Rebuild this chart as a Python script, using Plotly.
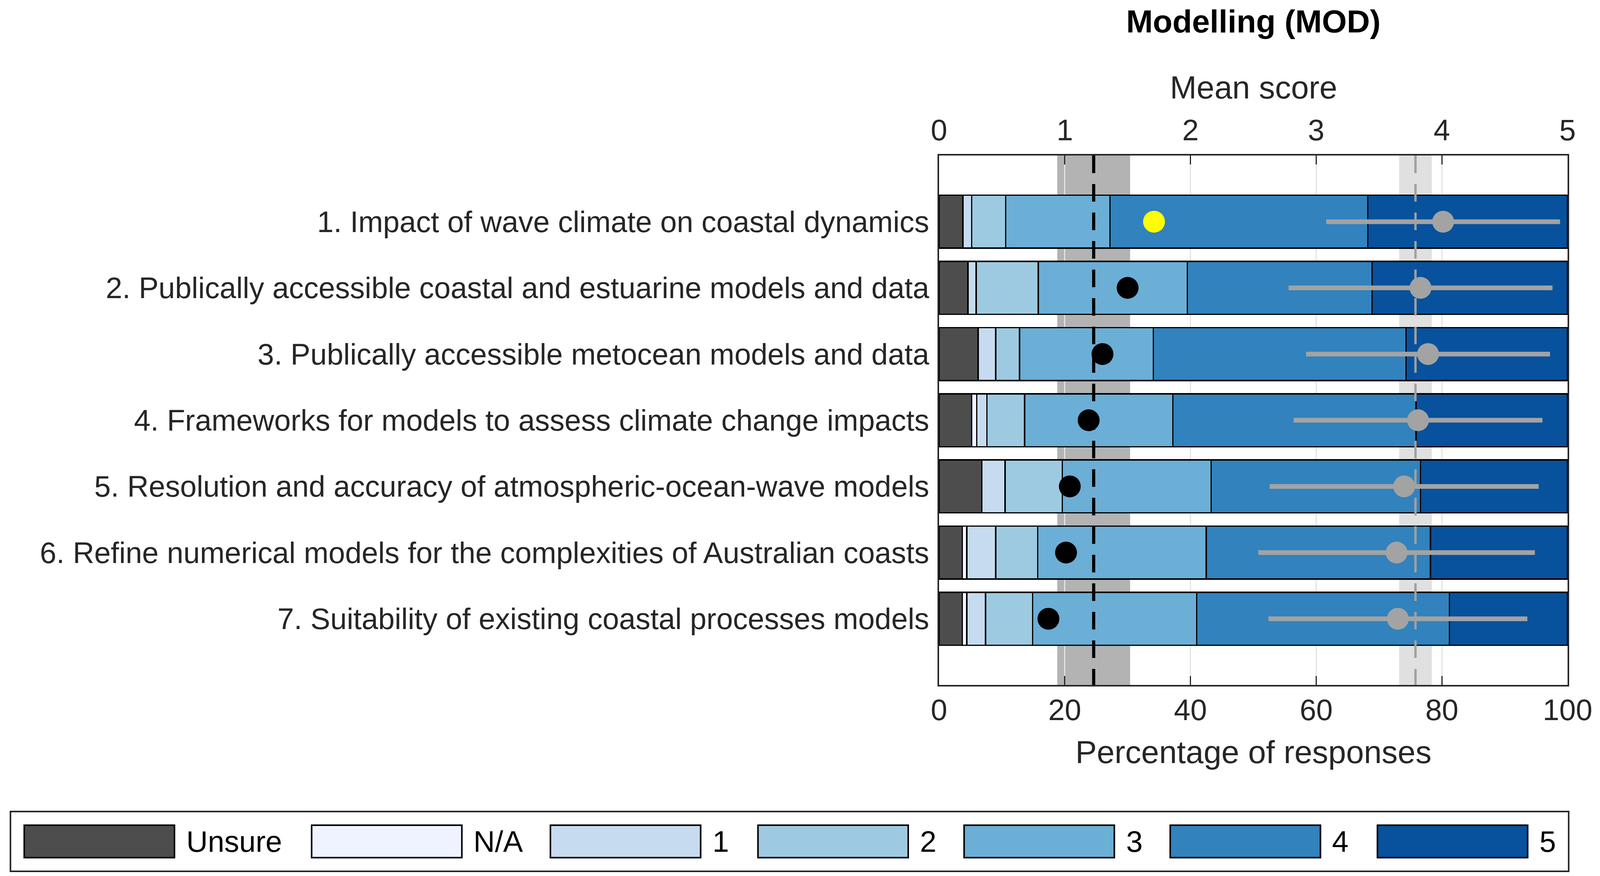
import plotly.graph_objects as go

# Survey items (top to bottom)
categories = [
    "1. Impact of wave climate on coastal dynamics",
    "2. Publically accessible coastal and estuarine models and data",
    "3. Publically accessible metocean models and data",
    "4. Frameworks for models to assess climate change impacts",
    "5. Resolution and accuracy of atmospheric-ocean-wave models",
    "6. Refine numerical models for the complexities of Australian coasts",
    "7. Suitability of existing coastal processes models",
]

# Percentage of responses per answer level
levels = ["Unsure", "N/A", "1", "2", "3", "4", "5"]
pct_unsure = [3.8, 4.6, 6.2, 5.2, 6.8, 3.7, 3.7]
pct_na = [0.0, 0.0, 0.0, 0.8, 0.0, 0.7, 0.7]
pct_1 = [1.4, 1.3, 2.8, 1.6, 3.7, 4.6, 3.0]
pct_2 = [5.4, 9.9, 3.8, 6.0, 9.1, 6.7, 7.5]
pct_3 = [16.6, 23.7, 21.3, 23.6, 23.7, 26.8, 26.1]
pct_4 = [41.0, 29.4, 40.2, 38.7, 33.3, 35.7, 40.2]
pct_5 = [31.8, 31.1, 25.7, 24.1, 23.4, 21.8, 18.8]
level_colors = ["#4d4d4d", "#eff3ff", "#c6dbef", "#9ecae1", "#6baed6", "#3182bd", "#08519c"]

# Scores on the 0-5 "Mean score" axis
priority_score = [1.71, 1.50, 1.30, 1.19, 1.04, 1.01, 0.87]
highlighted = [True, False, False, False, False, False, False]
priority_overall = 1.23
priority_band = (0.94, 1.52)

mean_score = [4.01, 3.83, 3.89, 3.81, 3.70, 3.64, 3.65]
mean_score_sd = [0.93, 1.05, 0.97, 0.99, 1.07, 1.10, 1.03]
mean_overall = 3.79
mean_band = (3.66, 3.92)

pct_ticks = [0, 20, 40, 60, 80, 100]
score_ticks = [0, 1, 2, 3, 4, 5]

# ---- layout (measured in reference pixels, mapped to the 4096 px wide page) ----
SX = 4096 / 4377
PAGE_PAD = 8
W, H = 4096 - 2 * PAGE_PAD, 2242 - 2 * PAGE_PAD
L, R, T, B = 2569, 4301, 398, 1753          # plot area in reference pixels
FONT = "Liberation Sans, Arial, sans-serif"
TXT = "#262626"
FS = 76        # tick / legend text
FS_TITLE = 82  # axis titles and title


def fx(x):
    return round(x * SX) - PAGE_PAD


def fy(y):
    return y - PAGE_PAD


def px(x):
    return (x - L) / (R - L)


def py(y):
    return (B - y) / (B - T)


rows = list(range(1, len(categories) + 1))
series = [pct_unsure, pct_na, pct_1, pct_2, pct_3, pct_4, pct_5]

fig = go.Figure()

for name, vals, col in zip(levels, series, level_colors):
    fig.add_trace(go.Bar(
        x=vals, y=rows, orientation="h", name=name, width=0.8,
        marker=dict(color=col, line=dict(color="black", width=3.5)),
    ))

top = len(categories) + 1

# overall reference lines on the mean score axis
fig.add_trace(go.Scatter(
    x=[priority_overall, priority_overall], y=[0, top], xaxis="x2", yaxis="y",
    mode="lines", line=dict(color="black", width=8, dash="45px,28px"),
))
fig.add_trace(go.Scatter(
    x=[mean_overall, mean_overall], y=[0, top], xaxis="x2", yaxis="y",
    mode="lines", line=dict(color="#a0a0a0", width=6, dash="45px,28px"),
))

fig.add_trace(go.Scatter(
    x=mean_score, y=rows, xaxis="x2", yaxis="y", mode="markers",
    marker=dict(size=56, color="#a3a3a3"),
    error_x=dict(type="data", array=mean_score_sd, color="#a3a3a3", thickness=12, width=0),
))
fig.add_trace(go.Scatter(
    x=priority_score, y=rows, xaxis="x2", yaxis="y", mode="markers",
    marker=dict(size=56, color=["#ffff00" if h else "black" for h in highlighted]),
))

# shaded bands behind the bars
fig.add_shape(type="rect", xref="x2", yref="paper", x0=priority_band[0], x1=priority_band[1],
              y0=0, y1=1, fillcolor="#b3b3b3", line_width=0, layer="below")
fig.add_shape(type="rect", xref="x2", yref="paper", x0=mean_band[0], x1=mean_band[1],
              y0=0, y1=1, fillcolor="#e0e0e0", line_width=0, layer="below")

axis_common = dict(ticks="inside", ticklen=23, tickwidth=3, tickcolor=TXT,
                   zeroline=False, ticklabeloverflow="allow",
                   tickfont=dict(size=FS, color=TXT, family=FONT))

fig.update_layout(
    width=W, height=H,
    margin=dict(l=fx(L), r=W - fx(R), t=fy(T), b=H - fy(B), pad=0),
    barmode="stack", showlegend=False,
    plot_bgcolor="white", paper_bgcolor="white",
    font=dict(family=FONT, size=FS, color=TXT),
    xaxis=dict(range=[0, 100], tickvals=pct_ticks, showline=True, linewidth=4,
               linecolor=TXT, mirror=True, showgrid=True, gridcolor="#e3e3e3",
               gridwidth=3, ticklabelstandoff=-5, **axis_common),
    xaxis2=dict(range=[0, 5], tickvals=score_ticks, overlaying="x", side="top",
                showgrid=False, showline=False, ticklabelstandoff=23, **axis_common),
    yaxis=dict(range=[top, 0], tickvals=rows, ticktext=categories, showline=True,
               linewidth=4, linecolor=TXT, mirror=True, showgrid=False, zeroline=False,
               ticks="", ticklabelstandoff=6, tickfont=dict(size=FS, color=TXT, family=FONT)),
)

# titles
fig.add_annotation(text="<b>Modelling (MOD)</b>", xref="paper", yref="paper", x=0.5, y=py(PAGE_PAD),
                   xanchor="center", yanchor="top", showarrow=False, borderpad=0,
                   font=dict(size=FS_TITLE, color="black", family=FONT))
fig.add_annotation(text="Mean score", xref="paper", yref="paper", x=0.5, y=py(224),
                   xanchor="center", yanchor="middle", showarrow=False,
                   font=dict(size=FS_TITLE, color=TXT, family=FONT))
fig.add_annotation(text="Percentage of responses", xref="paper", yref="paper", x=0.5, y=py(1924),
                   xanchor="center", yanchor="middle", showarrow=False,
                   font=dict(size=FS_TITLE, color=TXT, family=FONT))

# legend drawn by hand (wide MATLAB-style swatches)
fig.add_shape(type="rect", xref="paper", yref="paper", x0=px(10), x1=px(4304),
              y0=py(2230), y1=py(2077), line=dict(color=TXT, width=4), fillcolor="white")
legend_x = [48, 840, 1498, 2070, 2638, 3206, 3777]
swatch_w = 414
for name, col, x0 in zip(levels, level_colors, legend_x):
    fig.add_shape(type="rect", xref="paper", yref="paper", x0=px(x0), x1=px(x0 + swatch_w),
                  y0=py(2195), y1=py(2112), line=dict(color="black", width=4), fillcolor=col)
    fig.add_annotation(text=name, xref="paper", yref="paper", x=px(x0 + swatch_w + 30),
                       y=py(2153), xanchor="left", yanchor="middle", showarrow=False,
                       font=dict(size=FS, color="black", family=FONT))

fig.write_html("out.html")
